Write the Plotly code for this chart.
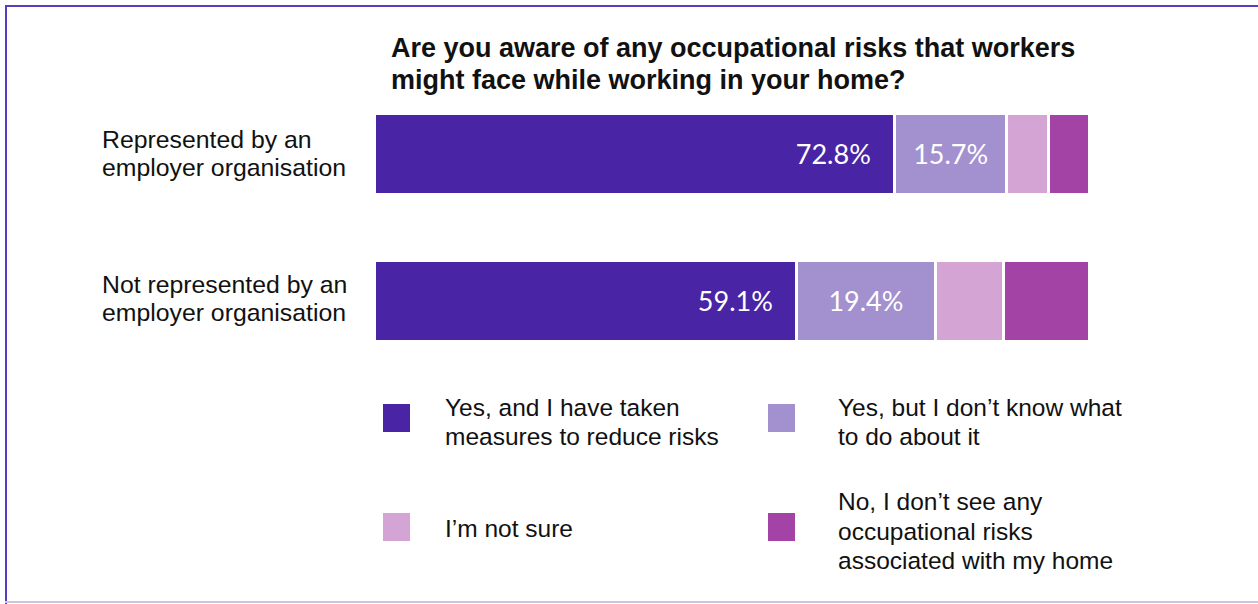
import plotly.graph_objects as go

# Survey responses (% of respondents) per group
groups = ["Represented by an<br>employer organisation",
          "Not represented by an<br>employer organisation"]
answers = ["Yes, and I have taken<br>measures to reduce risks",
           "Yes, but I don’t know what<br>to do about it",
           "I’m not sure",
           "No, I don’t see any<br>occupational risks<br>associated with my home"]
yes_taken = [72.8, 59.1]
yes_unsure = [15.7, 19.4]
not_sure = [5.9, 9.6]
no_risks = [5.6, 11.9]
colors = ["#4924A5", "#A390CF", "#D4A4D4", "#A343A6"]
title = "Are you aware of any occupational risks that workers<br>might face while working in your home?"

TEXT_FONT = "Liberation Sans, Arial, sans-serif"
INK = "#111111"

W, H = 1258, 604
ML, MR, MT, MB = 374, 169, 80, 230
PW, PH = W - ML - MR, H - MT - MB


def px(x):
    return (x - ML) / PW


def py(y):
    return (H - MB - y) / PH


def text_block(x, y_mid, text, size, step, bold=False):
    """Left-aligned multi-line text, one annotation per line with a fixed line step."""
    lines = text.split("<br>")
    top = y_mid - step * (len(lines) - 1) / 2
    out = []
    for k, line in enumerate(lines):
        out.append(dict(
            x=px(x), xref="paper", y=py(top + k * step), yref="paper",
            text="<b>" + line + "</b>" if bold else line, showarrow=False,
            xanchor="left", yanchor="middle", align="left",
            font=dict(family=TEXT_FONT, size=size, color=INK),
        ))
    return out


series = [yes_taken, yes_unsure, not_sure, no_risks]
label_rules = [
    dict(textposition="inside", insidetextanchor="end", fmt="{:.1f}%\u00a0\u00a0\u00a0"),
    dict(textposition="inside", insidetextanchor="middle", fmt="{:.1f}%"),
    None,
    None,
]

fig = go.Figure()
for name, vals, col, rule in zip(answers, series, colors, label_rules):
    kw = dict(
        x=vals, y=[0, 1], orientation="h", name=name.replace("<br>", " "),
        marker=dict(color=col, line=dict(color="white", width=3)),
        showlegend=False, hoverinfo="x+name",
    )
    if rule:
        kw.update(
            text=[rule["fmt"].format(v) for v in vals],
            textposition=rule["textposition"],
            insidetextanchor=rule["insidetextanchor"],
            textfont=dict(family="Lato", size=27, color="white"),
        )
    fig.add_trace(go.Bar(**kw))

annotations = []
# group labels to the left of the bars (bar centres at 154 / 300 px)
for g, yc in zip(groups, [153, 298]):
    annotations += text_block(100, yc, g, 24.8, 28)

# title
annotations += text_block(389, 64, title, 27, 32, bold=True)

# two-column legend
legend_pos = [(383, 418, 443, 422), (768, 418, 836, 422),
              (383, 527, 443, 528), (768, 527, 836, 531)]
shapes = []
for (sx, sy, tx, ty), name, col in zip(legend_pos, answers, colors):
    shapes.append(dict(type="rect", xref="paper", yref="paper",
                       x0=px(sx), x1=px(sx + 27), y0=py(sy - 14), y1=py(sy + 14),
                       fillcolor=col, line=dict(width=0)))
    annotations += text_block(tx, ty, name, 24.5, 29.5)

# frame lines
shapes += [
    dict(type="line", xref="paper", yref="paper", x0=px(6), x1=px(6), y0=py(6), y1=py(604),
         line=dict(color="#5B3CC0", width=2)),
    dict(type="line", xref="paper", yref="paper", x0=px(5), x1=px(1258), y0=py(6), y1=py(6),
         line=dict(color="#5B3CC0", width=2)),
    dict(type="line", xref="paper", yref="paper", x0=px(5), x1=px(1258), y0=py(602), y1=py(602),
         line=dict(color="#CCC4E2", width=2)),
]

fig.update_layout(
    width=W, height=H, barmode="stack", bargap=0.449,
    margin=dict(l=ML, r=MR, t=MT, b=MB),
    paper_bgcolor="white", plot_bgcolor="white",
    xaxis=dict(range=[0, 100], visible=False, fixedrange=True),
    yaxis=dict(range=[1.5, -0.5], visible=False, fixedrange=True),
    annotations=annotations, shapes=shapes,
    uniformtext=dict(mode="show", minsize=10),
)

fig.write_html("out.html", config={"displayModeBar": False})
